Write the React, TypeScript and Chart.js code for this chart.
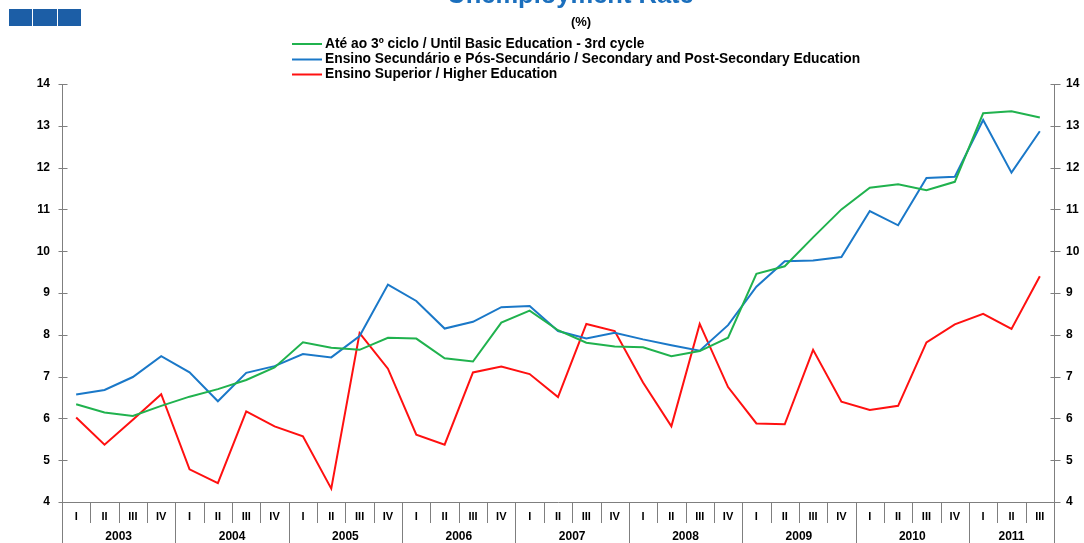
import React, { useEffect, useRef } from "react";
import { Chart, registerables } from "chart.js";

Chart.register(...registerables);

const quarters = [
  "I", "II", "III", "IV", "I", "II", "III", "IV", "I", "II", "III", "IV",
  "I", "II", "III", "IV", "I", "II", "III", "IV", "I", "II", "III", "IV",
  "I", "II", "III", "IV", "I", "II", "III", "IV", "I", "II", "III",
];
const years = ["2003", "2004", "2005", "2006", "2007", "2008", "2009", "2010", "2011"];
const quartersPerYear = [4, 4, 4, 4, 4, 4, 4, 4, 3];

const basicEducation = [
  6.34, 6.14, 6.06, 6.3, 6.52, 6.7, 6.92, 7.22, 7.82, 7.69, 7.64, 7.93,
  7.91, 7.44, 7.36, 8.29, 8.58, 8.11, 7.81, 7.72, 7.7, 7.49, 7.61, 7.93,
  9.46, 9.64, 10.33, 11.0, 11.52, 11.6, 11.46, 11.66, 13.3, 13.35, 13.2,
];
const secondaryEducation = [
  6.57, 6.68, 6.99, 7.49, 7.1, 6.41, 7.09, 7.25, 7.54, 7.46, 7.97, 9.2,
  8.81, 8.15, 8.31, 8.66, 8.69, 8.09, 7.91, 8.05, 7.89, 7.75, 7.62, 8.23,
  9.15, 9.76, 9.78, 9.86, 10.96, 10.62, 11.75, 11.78, 13.14, 11.88, 12.87,
];
const higherEducation = [
  6.02, 5.37, 5.97, 6.58, 4.78, 4.45, 6.17, 5.81, 5.57, 4.32, 8.04, 7.19,
  5.61, 5.37, 7.1, 7.24, 7.06, 6.51, 8.26, 8.09, 6.86, 5.81, 8.26, 6.75,
  5.88, 5.86, 7.64, 6.4, 6.2, 6.3, 7.82, 8.25, 8.5, 8.14, 9.4,
];
const yTicks = [4, 5, 6, 7, 8, 9, 10, 11, 12, 13, 14];

const seriesNames = [
  "Até ao 3º ciclo / Until Basic Education - 3rd cycle",
  "Ensino Secundário e Pós-Secundário / Secondary and Post-Secondary Education",
  "Ensino Superior / Higher Education",
];
const seriesColors = ["#20b24e", "#1a78c8", "#ff1010"];
const titleText = "Unemployment Rate";
const subtitleText = "(%)";

const FONT = "'Liberation Sans', Arial, sans-serif";

const decorPlugin = {
  id: "decor",
  beforeDatasetsDraw(chart: any) {
    const ctx = chart.ctx as CanvasRenderingContext2D;
    const { left, right, top, bottom } = chart.chartArea;
    const xs = chart.scales.x;
    const ys = chart.scales.y;
    ctx.save();
    ctx.strokeStyle = "#7f7f7f";
    ctx.lineWidth = 1;
    const L = Math.round(left) + 0.5;
    const R = Math.round(right) + 0.5;
    const B = Math.round(bottom) + 0.5;
    ctx.beginPath();
    ctx.moveTo(L, top);
    ctx.lineTo(L, 543);
    ctx.moveTo(R, top);
    ctx.lineTo(R, 543);
    ctx.moveTo(L, B);
    ctx.lineTo(R, B);
    yTicks.forEach((v) => {
      const y = Math.round(ys.getPixelForValue(v)) + 0.5;
      ctx.moveTo(L - 4, y);
      ctx.lineTo(L + 5, y);
      ctx.moveTo(R - 4, y);
      ctx.lineTo(R + 6, y);
    });
    // quarter separators
    const step = xs.getPixelForValue(1) - xs.getPixelForValue(0);
    let idx = 0;
    quartersPerYear.forEach((n, k) => {
      for (let j = 1; j < n; j++) {
        const x = Math.round(xs.getPixelForValue(idx + j) - step / 2) + 0.5;
        ctx.moveTo(x, B);
        ctx.lineTo(x, 523);
      }
      idx += n;
      if (k < quartersPerYear.length - 1) {
        const x = Math.round(xs.getPixelForValue(idx) - step / 2) + 0.5;
        ctx.moveTo(x, B);
        ctx.lineTo(x, 543);
      }
    });
    ctx.stroke();

    // y tick labels
    ctx.fillStyle = "#000";
    ctx.font = `bold 12px ${FONT}`;
    ctx.textBaseline = "middle";
    yTicks.forEach((v) => {
      const y = ys.getPixelForValue(v);
      ctx.textAlign = "right";
      ctx.fillText(String(v), 50, y);
      ctx.textAlign = "left";
      ctx.fillText(String(v), 1066, y);
    });
    // quarter labels
    ctx.font = `bold 11px ${FONT}`;
    ctx.textAlign = "center";
    quarters.forEach((q, i) => {
      ctx.fillText(q, xs.getPixelForValue(i), 517);
    });
    // year labels
    ctx.font = `bold 12px ${FONT}`;
    idx = 0;
    quartersPerYear.forEach((n, k) => {
      const x0 = xs.getPixelForValue(idx) - step / 2;
      const x1 = xs.getPixelForValue(idx + n - 1) + step / 2;
      ctx.fillText(years[k], (x0 + x1) / 2, 537);
      idx += n;
    });

    // logo
    ctx.fillStyle = "#1c5ea6";
    ctx.fillRect(9, 9, 23, 17);
    ctx.fillRect(33, 9, 24, 17);
    ctx.fillRect(58, 9, 23, 17);

    // title
    ctx.fillStyle = "#1b6fbd";
    ctx.font = `bold 25.5px ${FONT}`;
    ctx.textAlign = "center";
    ctx.textBaseline = "alphabetic";
    ctx.fillText(titleText, 570.5, 3);
    ctx.fillStyle = "#000";
    ctx.font = `bold 13px ${FONT}`;
    ctx.textBaseline = "middle";
    ctx.fillText(subtitleText, 581, 22);

    // legend
    const legendY = [44, 59.5, 74.5];
    ctx.textAlign = "left";
    ctx.font = `bold 13.8px ${FONT}`;
    seriesNames.forEach((name, i) => {
      ctx.strokeStyle = seriesColors[i];
      ctx.lineWidth = 2;
      ctx.beginPath();
      ctx.moveTo(292, legendY[i]);
      ctx.lineTo(322, legendY[i]);
      ctx.stroke();
      ctx.fillStyle = "#000";
      ctx.fillText(name, 325, legendY[i]);
    });
    ctx.restore();
  },
};

export default function App() {
  const ref = useRef<HTMLCanvasElement | null>(null);
  useEffect(() => {
    if (!ref.current) return;
    const chart = new Chart(ref.current, {
      type: "line",
      data: {
        labels: quarters,
        datasets: [
          { label: seriesNames[0], data: basicEducation, borderColor: seriesColors[0] },
          { label: seriesNames[1], data: secondaryEducation, borderColor: seriesColors[1] },
          { label: seriesNames[2], data: higherEducation, borderColor: seriesColors[2] },
        ].map((d) => ({ ...d, borderWidth: 2, pointRadius: 0, tension: 0, fill: false })),
      },
      options: {
        animation: false,
        responsive: false,
        layout: { padding: { left: 62, right: 30, top: 84, bottom: 41 } },
        plugins: { legend: { display: false }, tooltip: { enabled: false }, title: { display: false } },
        scales: {
          x: { type: "category", display: false, offset: true },
          y: { display: false, min: 4, max: 14 },
        },
      },
      plugins: [decorPlugin],
    });
    return () => chart.destroy();
  }, []);
  return (
    <div style={{ position: "fixed", left: 0, top: 0, width: 1084, height: 543, background: "#fff" }}>
      <canvas ref={ref} width={1084} height={543} style={{ display: "block" }} />
    </div>
  );
}
